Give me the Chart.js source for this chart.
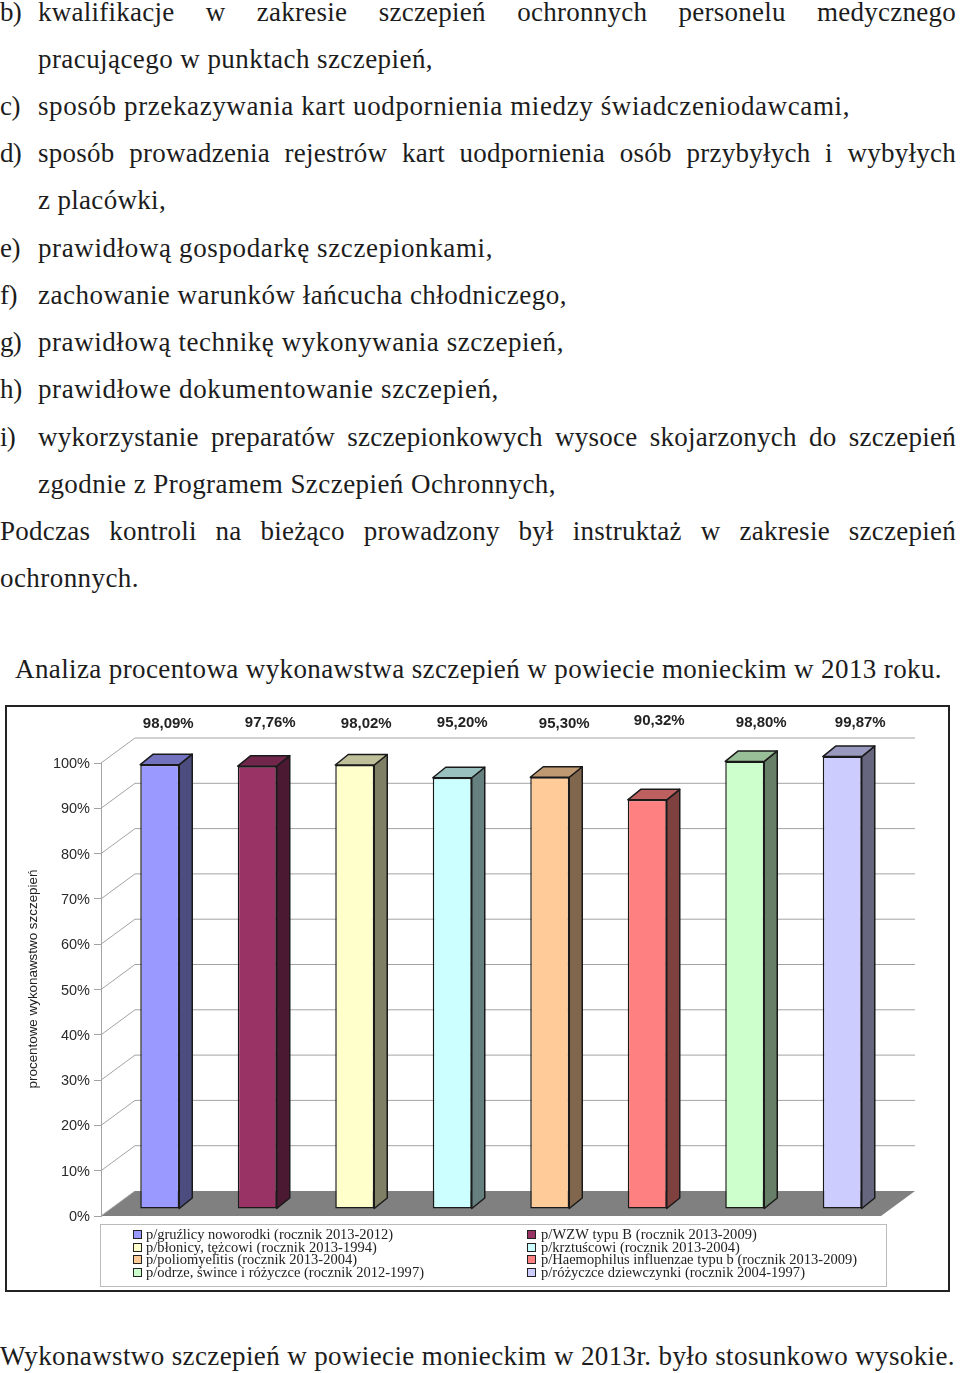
<!DOCTYPE html>
<html lang="pl"><head><meta charset="utf-8">
<script src="https://cdn.jsdelivr.net/npm/chart.js@4/dist/chart.umd.min.js"></script>
<style>
html,body{margin:0;padding:0;background:#fff;width:960px;height:1373px;overflow:hidden}
#page{position:relative;width:960px;height:1373px}
.ln{position:absolute;white-space:nowrap;font:27px/30px "Liberation Serif",serif;color:#1c1c1c}
.ln.j{white-space:normal;text-align:justify;text-align-last:justify;letter-spacing:.25px}
#frame{position:absolute;left:5px;top:705px;width:941px;height:583px;border:2px solid #222}
#wrap{position:absolute;left:0;top:700px;width:960px;height:600px}
#legend{position:absolute;left:100px;top:1224px;width:785px;height:61px;border:1px solid #bbb}
.sw{position:absolute;width:7px;height:7px;border:1.5px solid #222}
.lg{position:absolute;white-space:nowrap;font:14.5px/14px "Liberation Serif",serif;color:#222}
</style></head><body><div id="page">
<div id="frame"></div>
<div id="wrap"><canvas id="c" width="960" height="600"></canvas></div>
<div id="legend"></div>
</div>
<script>
const categories=["p/gruźlicy noworodki (rocznik 2013-2012)","p/WZW typu B (rocznik 2013-2009)","p/błonicy, tężcowi (rocznik 2013-1994)","p/krztuścowi (rocznik 2013-2004)","p/poliomyelitis (rocznik 2013-2004)","p/Haemophilus influenzae typu b (rocznik 2013-2009)","p/odrze, śwince i różyczce (rocznik 2012-1997)","p/różyczce dziewczynki (rocznik 2004-1997)"];
const values=[98.09,97.76,98.02,95.20,95.30,90.32,98.80,99.87];
const barColors=["#9999FF","#993366","#FFFFCC","#CCFFFF","#FFCC99","#FF8080","#CCFFCC","#CCCCFF"];
const axisTitle="procentowe wykonawstwo szczepień";
const labelDx=[8.5,13,11.5,10,14.5,12,16.5,18];
const labelY=[23.5,22.5,23.5,22.5,23.5,20.5,22.5,22.5];
const textLines=[
["b)",0,21,12],["kwalifikacje w zakresie szczepień ochronnych personelu medycznego",38,956,12,1],
["pracującego w punktach szczepień,",38,433,59],
["c)",0,20,106],["sposób przekazywania kart uodpornienia miedzy świadczeniodawcami,",38,850,106],
["d)",0,21,153],["sposób prowadzenia rejestrów kart uodpornienia osób przybyłych i wybyłych",38,956,153,1],
["z placówki,",38,166,200],
["e)",0,20,248],["prawidłową gospodarkę szczepionkami,",38,493,248],
["f)",0,17,295],["zachowanie warunków łańcucha chłodniczego,",38,567,295],
["g)",0,21,342],["prawidłową technikę wykonywania szczepień,",38,564,342],
["h)",0,22,389],["prawidłowe dokumentowanie szczepień,",38,499,389],
["i)",0,15,437],["wykorzystanie preparatów szczepionkowych wysoce skojarzonych do szczepień",38,956,437,1],
["zgodnie z Programem Szczepień Ochronnych,",38,556,484],
["Podczas kontroli na bieżąco prowadzony był instruktaż w zakresie szczepień",0,956,531,1],
["ochronnych.",0,139,578],
["Analiza procentowa wykonawstwa szczepień w powiecie monieckim w 2013 roku.",15,942,669],
["Wykonawstwo szczepień w powiecie monieckim w 2013r. było stosunkowo wysokie.",0,955,1356]
];
const page=document.getElementById('page');
function fit(el,w){
  const n=el.textContent.length; const nat=el.getBoundingClientRect().width;
  el.style.letterSpacing=((w-nat)/n).toFixed(3)+'px';
}
textLines.forEach(([t,l,r,cy,j])=>{
  const d=document.createElement('div'); d.className='ln'; d.textContent=t;
  d.style.left=l+'px'; d.style.top=(cy-15)+'px'; page.appendChild(d);
  if(j){d.classList.add('j'); d.style.width=(r-l)+'px';} else fit(d,r-l);
});
const legendRight=[393,757,377,740,357,857,424,805];
categories.forEach((c,i)=>{
  const col=i%2,row=Math.floor(i/2);
  const y=1234.5+row*12.5, sx=col?527:133, tx=col?541:146;
  const s=document.createElement('div'); s.className='sw';
  s.style.cssText=`left:${sx}px;top:${y-4.5}px;background:${barColors[i]}`; page.appendChild(s);
  const d=document.createElement('div'); d.className='lg'; d.textContent=c;
  d.style.left=tx+'px'; d.style.top=(y-7.5)+'px'; page.appendChild(d); fit(d,legendRight[i]-tx);
});
const DEPTH={x:34,y:-25}, OFF={x:10,y:-7}, BAR={x:13,y:-10.5};
function shade(hex,f){const n=parseInt(hex.slice(1),16);return `rgb(${(n>>16)*f|0},${((n>>8)&255)*f|0},${(n&255)*f|0})`;}
function poly(ctx,pts,fill,stroke,lw){ctx.beginPath();pts.forEach((p,i)=>i?ctx.lineTo(p[0],p[1]):ctx.moveTo(p[0],p[1]));ctx.closePath();
  if(fill){ctx.fillStyle=fill;ctx.fill();} if(stroke){ctx.strokeStyle=stroke;ctx.lineWidth=lw;ctx.lineJoin='round';ctx.stroke();}}
const plugin3d={id:'plugin3d',
  beforeDatasetsDraw(ch){
    const {ctx,chartArea:a,scales:{y}}=ch;
    ctx.save();
    const y0=y.getPixelForValue(0);
    poly(ctx,[[a.left,y0],[a.left+DEPTH.x,y0+DEPTH.y],[a.right+DEPTH.x,y0+DEPTH.y],[a.right,y0]],'#808080');
    ctx.strokeStyle='#a3a3a3';ctx.lineWidth=1;
    y.ticks.forEach(t=>{const p=y.getPixelForValue(t.value);ctx.beginPath();ctx.moveTo(a.left,p);ctx.lineTo(a.left+DEPTH.x,p+DEPTH.y);
      if(t.value>0)ctx.lineTo(a.right+DEPTH.x,p+DEPTH.y);ctx.stroke();});
    ctx.restore();
    ctx.save();ctx.translate(OFF.x,OFF.y);
  },
  afterDatasetsDraw(ch){
    const {ctx}=ch; const m=ch.getDatasetMeta(0);
    m.data.forEach((b,i)=>{
      const {x,y,base,width}=b.getProps(['x','y','base','width'],true);
      const l=x-width/2,r=x+width/2,c=barColors[i];
      poly(ctx,[[r,y],[r+BAR.x,y+BAR.y],[r+BAR.x,base+BAR.y],[r,base]],shade(c,.5),'#1a1a1a',1.5);
      poly(ctx,[[l,y],[l+BAR.x,y+BAR.y],[r+BAR.x,y+BAR.y],[r,y]],shade(c,.75),'#1a1a1a',1.5);
    });
    ctx.restore();
    ctx.save();
    ctx.font='bold 15px "Liberation Sans"';ctx.fillStyle='#222';ctx.textAlign='center';ctx.textBaseline='middle';
    m.data.forEach((b,i)=>{
      ctx.fillText(values[i].toFixed(2).replace('.',',')+'%',b.x+OFF.x+labelDx[i],labelY[i]);
    });
    ctx.font='13.4px "Liberation Sans"';ctx.fillStyle='#222';
    ctx.translate(33,279);ctx.rotate(-Math.PI/2);ctx.fillText(axisTitle,0,0);
    ctx.restore();
  }};
new Chart(document.getElementById('c'),{
  type:'bar',
  data:{labels:categories,datasets:[{data:values,backgroundColor:barColors,borderColor:'#1a1a1a',borderWidth:1.5,borderSkipped:false,barPercentage:.4,categoryPercentage:1,clip:false}]},
  plugins:[plugin3d],
  options:{responsive:false,animation:false,
    layout:{padding:{left:0,right:79,top:63,bottom:84}},
    plugins:{legend:{display:false},tooltip:{enabled:false},title:{display:false}},
    scales:{
      x:{display:false},
      y:{min:0,max:100,afterFit(s){s.width=101;},
        border:{display:true,color:'#a3a3a3',width:1},
        grid:{drawOnChartArea:false,drawTicks:true,tickLength:7,color:'#a3a3a3'},
        ticks:{stepSize:10,padding:4,labelOffset:1,color:'#2a2a2a',font:{family:'"Liberation Sans"',size:14.5},callback:v=>v+'%'}}
    }}
});
</script></body></html>
